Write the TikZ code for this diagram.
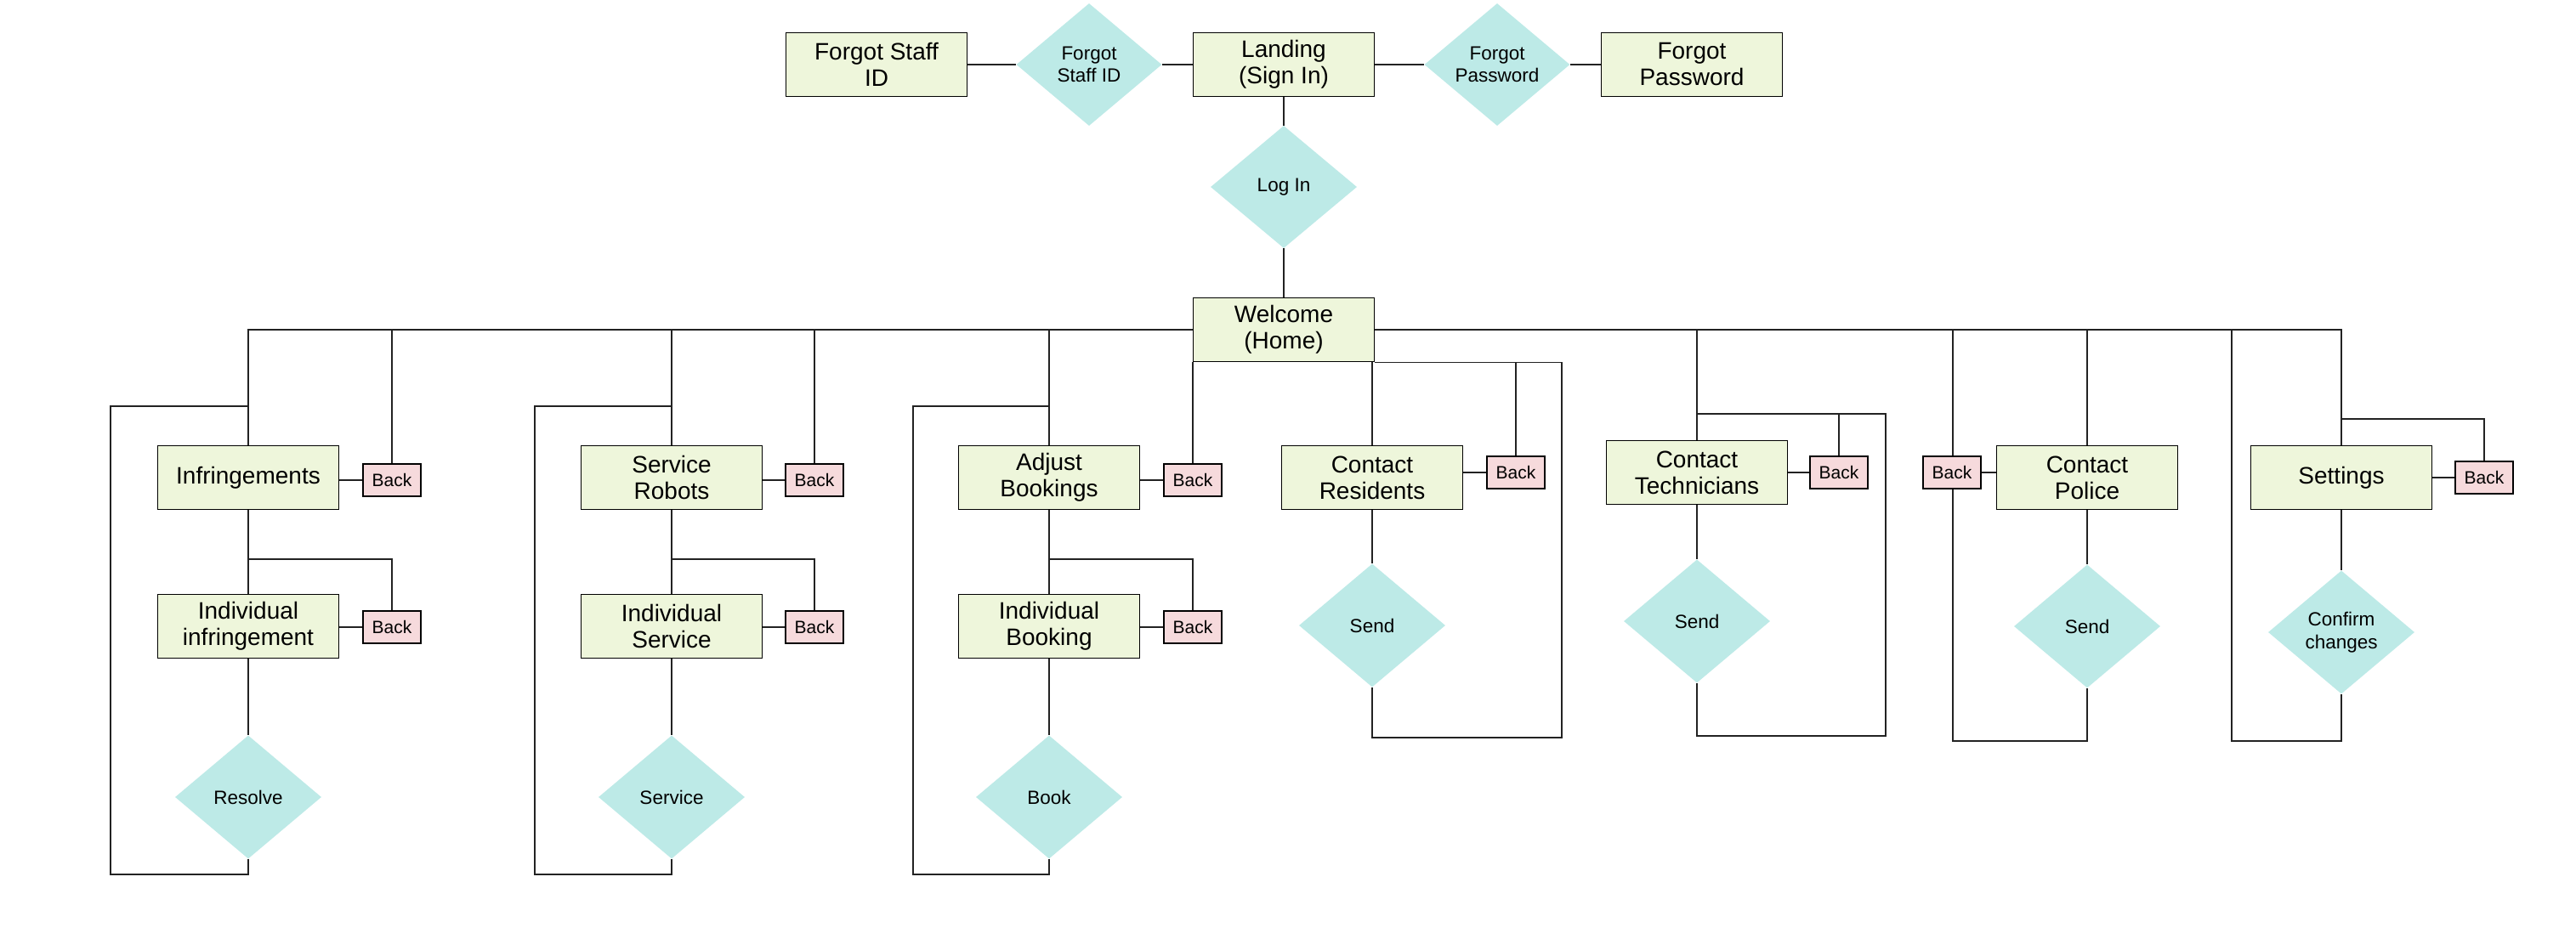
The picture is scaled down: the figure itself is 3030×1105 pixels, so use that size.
\documentclass[tikz,border=0pt]{standalone}
\usepackage{fontspec}
\setmainfont{Liberation Sans}
\usetikzlibrary{shapes.geometric,backgrounds}
\definecolor{boxfill}{HTML}{EEF6DB}
\definecolor{backfill}{HTML}{F6DADC}
\definecolor{dmdfill}{HTML}{BDEAE7}
\definecolor{linec}{HTML}{222222}
\tikzset{
  screen/.style={draw=black, line width=1.8pt, fill=boxfill, minimum width=213pt, minimum height=75pt, inner sep=0pt, align=center, font=\fontsize{28}{31}\selectfont},
  backbox/.style={draw=black, line width=1.4pt, fill=backfill, minimum width=68pt, minimum height=38pt, inner sep=0pt, font=\fontsize{21}{24}\selectfont},
  choice/.style={diamond, fill=dmdfill, draw=none, minimum width=172pt, minimum height=145pt, inner sep=0pt, align=center, font=\fontsize{22.5}{26.5}\selectfont},
  conn/.style={draw=linec, line width=1.6pt}
}
\begin{document}
\begin{tikzpicture}[x=1pt,y=-1pt]
\useasboundingbox (0,0) rectangle (3030,1105);
% top row
\node[screen] (fsid) at (1031,76) {Forgot Staff\\ID};
\node[choice, minimum height=144pt, minimum width=171pt] (dfsid) at (1281,76) {Forgot\\Staff ID};
\node[screen] (landing) at (1510,76) {Landing\\(Sign In)};
\node[choice, minimum height=144pt, minimum width=171pt] (dfp) at (1761,76) {Forgot\\Password};
\node[screen] (fp) at (1990,76) {Forgot\\Password};
\node[choice, minimum height=144pt] (login) at (1510,220) {Log In};
\node[screen] (welcome) at (1510,388) {Welcome\\(Home)};
% column 1
\node[screen] (infr) at (292,562) {Infringements};
\node[backbox] (b1a) at (461,565) {Back};
\node[screen] (indinf) at (292,737) {Individual\\infringement};
\node[backbox] (b1b) at (461,738) {Back};
\node[choice] (resolve) at (292,938) {Resolve};
% column 2
\node[screen] (srob) at (790,562) {Service\\Robots};
\node[backbox] (b2a) at (958,565) {Back};
\node[screen] (indserv) at (790,737) {Individual\\Service};
\node[backbox] (b2b) at (958,738) {Back};
\node[choice] (service) at (790,938) {Service};
% column 3
\node[screen] (adjb) at (1234,562) {Adjust\\Bookings};
\node[backbox] (b3a) at (1403,565) {Back};
\node[screen] (indbook) at (1234,737) {Individual\\Booking};
\node[backbox] (b3b) at (1403,738) {Back};
\node[choice] (book) at (1234,938) {Book};
% column 4
\node[screen] (cres) at (1614,562) {Contact\\Residents};
\node[backbox] (b4) at (1783,556) {Back};
\node[choice] (send1) at (1614,736) {Send};
% column 5
\node[screen] (ctech) at (1996,556) {Contact\\Technicians};
\node[backbox] (b5) at (2163,556) {Back};
\node[choice] (send2) at (1996,731) {Send};
% column 6
\node[screen] (cpol) at (2455,562) {Contact\\Police};
\node[backbox] (b6) at (2296,556) {Back};
\node[choice] (send3) at (2455,737) {Send};
% column 7
\node[screen] (settings) at (2754,562) {Settings};
\node[backbox] (b7) at (2922,562) {Back};
\node[choice] (confirm) at (2754,744) {Confirm\\changes};
% loop corners
\coordinate (lp1) at (130,1029);
\coordinate (lp2) at (629,1029);
\coordinate (lp3) at (1074,1029);
\coordinate (lp4) at (1837,868);
\coordinate (lp5) at (2218,866);
\coordinate (lp6) at (2297,872);
\coordinate (lp7) at (2625,872);
\begin{scope}[on background layer]
\fill[white] (0,0) rectangle (3030,1105);
% top row
\draw[conn] (fsid.east) -- (dfsid.west);
\draw[conn] (dfsid.east) -- (landing.west);
\draw[conn] (landing.east) -- (dfp.west);
\draw[conn] (dfp.east) -- (fp.west);
\draw[conn] (landing.south) -- (login.north);
\draw[conn] (login.south) -- (welcome.north);
% bus
\draw[conn] (welcome.west) -| (infr.north);
\draw[conn] (welcome.east) -| (settings.north);
% column 1
\draw[conn] (b1a.north) -- (b1a.north |- welcome.west);
\draw[conn] (b1a.west) -- (b1a.west -| infr.east);
\draw[conn] (infr.south) -- (indinf.north);
\draw[conn] (infr.south |- 0,658) -| (b1b.north);
\draw[conn] (b1b.west) -- (b1b.west -| indinf.east);
\draw[conn] (indinf.south) -- (resolve.north);
\draw[conn] (resolve.south) |- (lp1) |- (infr.north |- 0,478);
% column 2
\draw[conn] (srob.north) -- (srob.north |- welcome.west);
\draw[conn] (b2a.north) -- (b2a.north |- welcome.west);
\draw[conn] (b2a.west) -- (b2a.west -| srob.east);
\draw[conn] (srob.south) -- (indserv.north);
\draw[conn] (srob.south |- 0,658) -| (b2b.north);
\draw[conn] (b2b.west) -- (b2b.west -| indserv.east);
\draw[conn] (indserv.south) -- (service.north);
\draw[conn] (service.south) |- (lp2) |- (srob.north |- 0,478);
% column 3
\draw[conn] (adjb.north) -- (adjb.north |- welcome.west);
\draw[conn] (b3a.north) -- (b3a.north |- welcome.south);
\draw[conn] (b3a.west) -- (b3a.west -| adjb.east);
\draw[conn] (adjb.south) -- (indbook.north);
\draw[conn] (adjb.south |- 0,658) -| (b3b.north);
\draw[conn] (b3b.west) -- (b3b.west -| indbook.east);
\draw[conn] (indbook.south) -- (book.north);
\draw[conn] (book.south) |- (lp3) |- (adjb.north |- 0,478);
% column 4
\draw[conn] (welcome.south east) -| (lp4) -| (send1.south);
\draw[conn] (cres.north) -- (cres.north |- welcome.south);
\draw[conn] (b4.north) -- (b4.north |- welcome.south);
\draw[conn] (b4.west) -- (b4.west -| cres.east);
\draw[conn] (cres.south) -- (send1.north);
% column 5
\draw[conn] (ctech.north) -- (ctech.north |- welcome.east);
\draw[conn] (ctech.north |- 0,487) -| (lp5) -| (send2.south);
\draw[conn] (b5.north) -- (b5.north |- 0,487);
\draw[conn] (b5.west) -- (ctech.east);
\draw[conn] (ctech.south) -- (send2.north);
% column 6
\draw[conn] (cpol.north) -- (cpol.north |- welcome.east);
\draw[conn] (lp6 |- welcome.east) -- (lp6) -| (send3.south);
\draw[conn] (b6.east) -- (b6.east -| cpol.west);
\draw[conn] (cpol.south) -- (send3.north);
% column 7
\draw[conn] (lp7 |- welcome.east) -- (lp7) -| (confirm.south);
\draw[conn] (settings.north |- 0,493) -| (b7.north);
\draw[conn] (b7.west) -- (settings.east);
\draw[conn] (settings.south) -- (confirm.north);
\end{scope}
\end{tikzpicture}
\end{document}
